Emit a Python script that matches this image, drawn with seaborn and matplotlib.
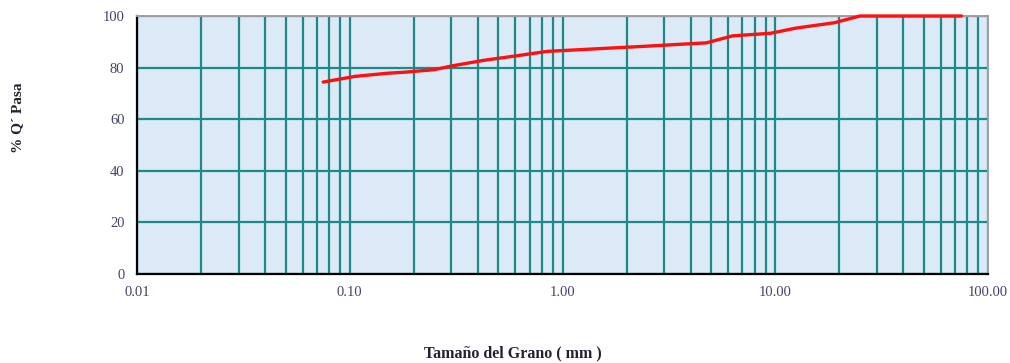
import matplotlib
matplotlib.use("Agg")
import matplotlib.pyplot as plt
import matplotlib.ticker as mticker
import seaborn as sns
import pandas as pd

# Grain-size distribution (sieve opening in mm, percent passing)
sieve_mm = [0.075, 0.106, 0.15, 0.18, 0.25, 0.30, 0.425, 0.60, 0.85, 1.18,
            2.00, 2.36, 4.75, 6.30, 9.50, 12.5, 19.0, 25.0, 37.5, 50.0, 75.0]
percent_passing = [74.4, 76.6, 77.8, 78.2, 79.2, 80.6, 82.8, 84.5, 86.3, 86.9,
                   87.9, 88.2, 89.6, 92.3, 93.3, 95.3, 97.4, 100.0, 100.0, 100.0, 100.0]

x_ticks = [0.01, 0.1, 1, 10, 100]
x_tick_labels = ["0.01", "0.10", "1.00", "10.00", "100.00"]
y_ticks = [0, 20, 40, 60, 80, 100]

sns.set_style("white")
plt.rcParams["font.family"] = ["Liberation Serif", "DejaVu Serif"]

df = pd.DataFrame({"mm": sieve_mm, "pasa": percent_passing})

fig = plt.figure(figsize=(10.10, 3.63), dpi=100)
ax = fig.add_axes([137 / 1010, 1 - 274 / 363, (988 - 137) / 1010, (274 - 16) / 363])
ax.set_facecolor("#dce9f6")

sns.lineplot(data=df, x="mm", y="pasa", ax=ax, color="#ff1010", linewidth=2.4)
for line in ax.get_lines():
    line.set_clip_on(False)
    line.set_zorder(5)

ax.set_xscale("log")
ax.set_xlim(0.01, 100)
ax.set_ylim(0, 100)
ax.set_xticks(x_ticks)
ax.set_xticklabels(x_tick_labels)
ax.xaxis.set_minor_locator(mticker.LogLocator(base=10, subs=range(2, 10)))
ax.xaxis.set_minor_formatter(mticker.NullFormatter())
ax.set_yticks(y_ticks)

grid_color = "#1b8a88"
ax.grid(True, which="both", axis="x", color=grid_color, linewidth=1.6)
ax.grid(True, which="major", axis="y", color=grid_color, linewidth=1.6)
ax.set_axisbelow(True)

ax.tick_params(axis="both", which="major", direction="out", length=4, width=1.5,
               color="black", labelsize=10.5, labelcolor="#444466", pad=5)
ax.tick_params(axis="x", which="minor", length=0)

for side in ("left", "bottom"):
    ax.spines[side].set_color("black")
    ax.spines[side].set_linewidth(1.6)
for side in ("top", "right"):
    ax.spines[side].set_color("#a0a0a0")
    ax.spines[side].set_linewidth(1.4)

ax.set_xlabel("")
ax.set_ylabel("")
fig.text(18 / 1010, 1 - 118 / 363, "% Q´ Pasa", rotation=90, ha="center", va="center",
         fontsize=11, fontweight="bold", color="#222233")
fig.text(513 / 1010, 1 - 353 / 363, "Tamaño del Grano ( mm )", ha="center", va="center",
         fontsize=11.5, fontweight="bold", color="#222233")

fig.savefig("out.png", dpi=100)
